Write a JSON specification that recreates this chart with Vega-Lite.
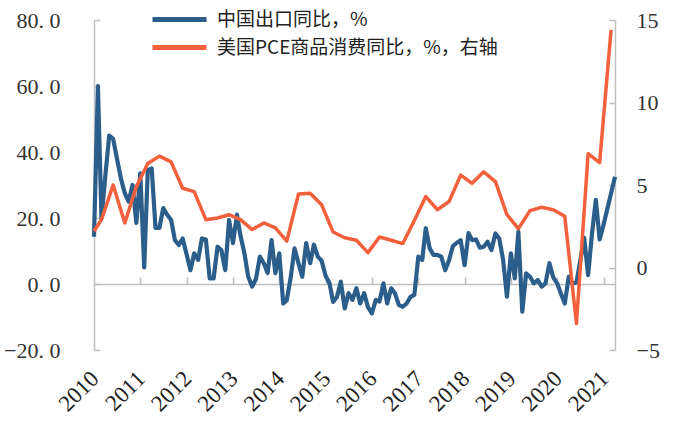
{
  "$schema": "https://vega.github.io/schema/vega-lite/v6.json",
  "autosize": "none",
  "padding": {"left": 94, "top": 20, "right": 63, "bottom": 77},
  "width": 521,
  "height": 330,
  "background": "white",
  "config": {"view": {"stroke": null}},
  "datasets": {
    "cn": [
      {"d":"2010-01-01","v":14.3},{"d":"2010-02-01","v":60},{"d":"2010-03-01","v":20},{"d":"2010-04-01","v":33},{"d":"2010-05-01","v":45},{"d":"2010-06-01","v":44},{"d":"2010-07-01","v":38},{"d":"2010-08-01","v":32},{"d":"2010-09-01","v":27.5},{"d":"2010-10-01","v":25},{"d":"2010-11-01","v":30},{"d":"2010-12-01","v":18.5},
      {"d":"2011-01-01","v":33.5},{"d":"2011-02-01","v":5},{"d":"2011-03-01","v":34.5},{"d":"2011-04-01","v":35},{"d":"2011-05-01","v":17},{"d":"2011-06-01","v":17},{"d":"2011-07-01","v":23},{"d":"2011-08-01","v":21},{"d":"2011-09-01","v":19.4},{"d":"2011-10-01","v":13.3},{"d":"2011-11-01","v":11.8},{"d":"2011-12-01","v":13.8},
      {"d":"2012-01-01","v":9},{"d":"2012-02-01","v":4.2},{"d":"2012-03-01","v":9.3},{"d":"2012-04-01","v":7.3},{"d":"2012-05-01","v":13.8},{"d":"2012-06-01","v":13.5},{"d":"2012-07-01","v":1.7},{"d":"2012-08-01","v":1.7},{"d":"2012-09-01","v":11.3},{"d":"2012-10-01","v":10.3},{"d":"2012-11-01","v":4.2},{"d":"2012-12-01","v":19.4},
      {"d":"2013-01-01","v":12.4},{"d":"2013-02-01","v":21},{"d":"2013-03-01","v":14.6},{"d":"2013-04-01","v":9.3},{"d":"2013-05-01","v":2.2},{"d":"2013-06-01","v":-0.8},{"d":"2013-07-01","v":1.5},{"d":"2013-08-01","v":8.3},{"d":"2013-09-01","v":6.3},{"d":"2013-10-01","v":3.3},{"d":"2013-11-01","v":13.3},{"d":"2013-12-01","v":3.3},
      {"d":"2014-01-01","v":9.3},{"d":"2014-02-01","v":-5.9},{"d":"2014-03-01","v":-4.9},{"d":"2014-04-01","v":2},{"d":"2014-05-01","v":10.8},{"d":"2014-06-01","v":6.3},{"d":"2014-07-01","v":2.2},{"d":"2014-08-01","v":12.4},{"d":"2014-09-01","v":6.3},{"d":"2014-10-01","v":11.9},{"d":"2014-11-01","v":8.3},{"d":"2014-12-01","v":7},
      {"d":"2015-01-01","v":2.5},{"d":"2015-02-01","v":0.2},{"d":"2015-03-01","v":-5.4},{"d":"2015-04-01","v":-3.9},{"d":"2015-05-01","v":0.7},{"d":"2015-06-01","v":-7.4},{"d":"2015-07-01","v":-2.8},{"d":"2015-08-01","v":-4.8},{"d":"2015-09-01","v":-1.3},{"d":"2015-10-01","v":-5.9},{"d":"2015-11-01","v":-2.8},{"d":"2015-12-01","v":-7},
      {"d":"2016-01-01","v":-8.9},{"d":"2016-02-01","v":-4.8},{"d":"2016-03-01","v":-5.3},{"d":"2016-04-01","v":0.2},{"d":"2016-05-01","v":-5.9},{"d":"2016-06-01","v":-1.3},{"d":"2016-07-01","v":-2.8},{"d":"2016-08-01","v":-6.4},{"d":"2016-09-01","v":-6.9},{"d":"2016-10-01","v":-5.9},{"d":"2016-11-01","v":-3.9},{"d":"2016-12-01","v":-3.3},
      {"d":"2017-01-01","v":8.3},{"d":"2017-02-01","v":7.3},{"d":"2017-03-01","v":16.9},{"d":"2017-04-01","v":10.8},{"d":"2017-05-01","v":8.8},{"d":"2017-06-01","v":8.8},{"d":"2017-07-01","v":8.3},{"d":"2017-08-01","v":4.2},{"d":"2017-09-01","v":7.3},{"d":"2017-10-01","v":11.5},{"d":"2017-11-01","v":12.5},{"d":"2017-12-01","v":13.3},
      {"d":"2018-01-01","v":5.7},{"d":"2018-02-01","v":15.4},{"d":"2018-03-01","v":13.3},{"d":"2018-04-01","v":13.5},{"d":"2018-05-01","v":11},{"d":"2018-06-01","v":11.3},{"d":"2018-07-01","v":12.8},{"d":"2018-08-01","v":10.3},{"d":"2018-09-01","v":15.3},{"d":"2018-10-01","v":13.8},{"d":"2018-11-01","v":7.3},{"d":"2018-12-01","v":-3.8},
      {"d":"2019-01-01","v":9.3},{"d":"2019-02-01","v":1.7},{"d":"2019-03-01","v":15.8},{"d":"2019-04-01","v":-8.4},{"d":"2019-05-01","v":3.2},{"d":"2019-06-01","v":2.2},{"d":"2019-07-01","v":0.2},{"d":"2019-08-01","v":1.2},{"d":"2019-09-01","v":-0.8},{"d":"2019-10-01","v":0.2},{"d":"2019-11-01","v":6.3},{"d":"2019-12-01","v":2},
      {"d":"2020-01-01","v":0.2},{"d":"2020-02-01","v":-3},{"d":"2020-03-01","v":-5.9},{"d":"2020-04-01","v":2.2},{"d":"2020-05-01","v":0.2},{"d":"2020-06-01","v":0.5},{"d":"2020-07-01","v":7},{"d":"2020-08-01","v":14},{"d":"2020-09-01","v":2.7},{"d":"2020-10-01","v":15},{"d":"2020-11-01","v":25.5},{"d":"2020-12-01","v":13.5},
      {"d":"2021-01-01","v":18},{"d":"2021-02-01","v":23},{"d":"2021-03-01","v":27.5},{"d":"2021-04-01","v":32.5}
    ],
    "us": [
      {"d":"2010-01-01","v":2.2},{"d":"2010-03-01","v":2.9},{"d":"2010-06-01","v":5.0},{"d":"2010-09-01","v":2.7},{"d":"2010-12-01","v":4.9},
      {"d":"2011-03-01","v":6.3},{"d":"2011-06-01","v":6.75},{"d":"2011-09-01","v":6.4},{"d":"2011-12-01","v":4.8},
      {"d":"2012-03-01","v":4.6},{"d":"2012-06-01","v":2.9},{"d":"2012-09-01","v":3.0},{"d":"2012-12-01","v":3.2},
      {"d":"2013-03-01","v":2.9},{"d":"2013-06-01","v":2.3},{"d":"2013-09-01","v":2.7},{"d":"2013-12-01","v":2.4},
      {"d":"2014-03-01","v":1.6},{"d":"2014-06-01","v":4.45},{"d":"2014-09-01","v":4.5},{"d":"2014-12-01","v":3.8},
      {"d":"2015-03-01","v":2.15},{"d":"2015-06-01","v":1.8},{"d":"2015-09-01","v":1.65},{"d":"2015-12-01","v":0.9},
      {"d":"2016-03-01","v":1.85},{"d":"2016-06-01","v":1.65},{"d":"2016-09-01","v":1.45},{"d":"2016-12-01","v":2.85},
      {"d":"2017-03-01","v":4.3},{"d":"2017-06-01","v":3.5},{"d":"2017-09-01","v":4.0},{"d":"2017-12-01","v":5.6},
      {"d":"2018-03-01","v":5.1},{"d":"2018-06-01","v":5.8},{"d":"2018-09-01","v":5.2},{"d":"2018-12-01","v":3.2},
      {"d":"2019-03-01","v":2.35},{"d":"2019-06-01","v":3.45},{"d":"2019-09-01","v":3.65},{"d":"2019-12-01","v":3.5},
      {"d":"2020-03-01","v":3.1},{"d":"2020-06-01","v":-3.4},{"d":"2020-09-01","v":6.9},{"d":"2020-12-01","v":6.35},
      {"d":"2021-03-01","v":14.4}
    ]
  },
  "layer": [
    {
      "data": {"name": "cn"},
      "mark": {"type": "line", "strokeWidth": 4.2, "strokeJoin": "round"},
      "encoding": {
        "x": {
          "field": "d", "type": "temporal",
          "scale": {"type": "utc", "nice": false, "domain": [{"year": 2010, "month": 1, "date": 1, "utc": true}, {"year": 2021, "month": 4, "date": 1, "utc": true}]},
          "axis": {
            "orient": "bottom", "offset": -66, "labels": false, "title": null, "grid": false,
            "domainColor": "#bfbfbf", "domainWidth": 1.5, "tickColor": "#bfbfbf", "tickWidth": 1.5, "tickSize": -7,
            "values": [{"year":2011,"utc":true},{"year":2012,"utc":true},{"year":2013,"utc":true},{"year":2014,"utc":true},{"year":2015,"utc":true},{"year":2016,"utc":true},{"year":2017,"utc":true},{"year":2018,"utc":true},{"year":2019,"utc":true},{"year":2020,"utc":true},{"year":2021,"utc":true}]
          }
        },
        "y": {
          "field": "v", "type": "quantitative",
          "scale": {"domain": [-20, 80], "nice": false, "zero": false},
          "axis": {
            "orient": "left", "title": null, "grid": false, "values": [-20, 0, 20, 40, 60, 80],
            "labelExpr": "replace(format(datum.value, '.1f'), '.', '. ')",
            "labelFont": "Liberation Serif", "labelFontSize": 22, "labelColor": "#333",
            "domainColor": "#bfbfbf", "domainWidth": 1.5, "tickColor": "#bfbfbf", "tickWidth": 1.5, "tickSize": -6,
            "labelPadding": 40
          }
        },
        "color": {
          "datum": "中国出口同比，%",
          "scale": {"domain": ["中国出口同比，%", "美国PCE商品消费同比，%，右轴"], "range": ["#2B5E8A", "#F4603C"]},
          "legend": {
            "orient": "none", "legendX": 74, "legendY": -12, "direction": "vertical", "title": null,
            "symbolType": "M-3,0L3,0", "symbolStrokeWidth": 5, "symbolSize": 324,
            "labelFont": "Noto Sans CJK SC", "labelFontSize": 19, "labelColor": "#222", "labelLimit": 600,
            "rowPadding": 6, "labelOffset": 26
          }
        }
      }
    },
    {
      "data": {"name": "us"},
      "mark": {"type": "line", "strokeWidth": 3.5, "strokeJoin": "round"},
      "encoding": {
        "x": {
          "field": "d", "type": "temporal",
          "axis": {
            "orient": "bottom", "domain": false, "ticks": false, "title": null, "grid": false,
            "labelAngle": -45, "labelFont": "Liberation Serif", "labelFontSize": 23, "labelColor": "#222",
            "labelPadding": 17, "labelOffset": -7, "labelOverlap": false, "labelFlush": false, "labelBound": false,
            "format": "%Y", "formatType": "utc",
            "values": [{"year":2010,"utc":true},{"year":2011,"utc":true},{"year":2012,"utc":true},{"year":2013,"utc":true},{"year":2014,"utc":true},{"year":2015,"utc":true},{"year":2016,"utc":true},{"year":2017,"utc":true},{"year":2018,"utc":true},{"year":2019,"utc":true},{"year":2020,"utc":true},{"year":2021,"utc":true}]
          }
        },
        "y": {
          "field": "v", "type": "quantitative",
          "scale": {"domain": [-5, 15], "nice": false, "zero": false},
          "axis": {
            "orient": "right", "title": null, "grid": false, "values": [-5, 0, 5, 10, 15],
            "labelFont": "Liberation Serif", "labelFontSize": 22, "labelColor": "#333",
            "domainColor": "#bfbfbf", "domainWidth": 1.5, "tickColor": "#bfbfbf", "tickWidth": 1.5, "tickSize": -6,
            "labelPadding": 27
          }
        },
        "color": {"datum": "美国PCE商品消费同比，%，右轴"}
      }
    }
  ],
  "resolve": {"scale": {"y": "independent"}, "axis": {"x": "independent"}}
}
